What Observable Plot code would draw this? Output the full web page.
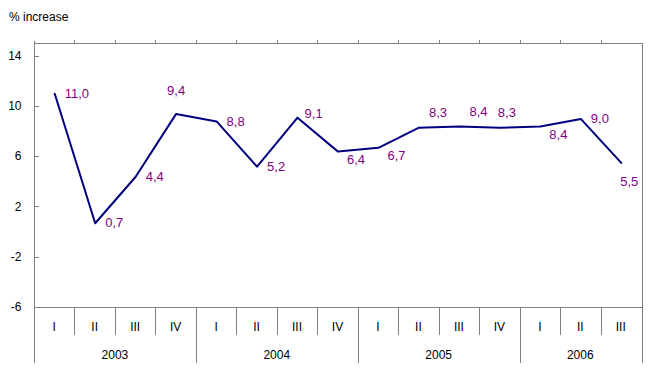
<!DOCTYPE html>
<html>
<head>
<meta charset="utf-8">
<script src="https://cdn.jsdelivr.net/npm/d3@7"></script>
<script src="https://cdn.jsdelivr.net/npm/@observablehq/plot@0.6"></script>
<style>
  html, body { margin: 0; padding: 0; background: #fff; }
  #chart svg { display: block; }
</style>
</head>
<body>
<div id="chart"></div>
<script>
// ---- data ----
const quarters = ["I","II","III","IV","I","II","III","IV","I","II","III","IV","I","II","III"];
const quarterYear = ["2003","2003","2003","2003","2004","2004","2004","2004","2005","2005","2005","2005","2006","2006","2006"];
const years = ["2003","2004","2005","2006"];
const values = [11.0, 0.7, 4.4, 9.4, 8.8, 5.2, 9.1, 6.4, 6.7, 8.3, 8.4, 8.3, 8.4, 9.0, 5.5];
const labelPlacement = ["right","right","right","above","right","right","rightUp","downRight","downRight","upRight","upRight","up","downRight","right","below"];
const yTicks = [-6, -2, 2, 6, 10, 14];
const yDomain = [-6, 15];
const yAxisTitle = "% increase";

// ---- styles ----
const FONT = "'Liberation Sans', Arial, Helvetica, sans-serif";
const GRAY = "#808080";
const placements = {
  right:     {textAnchor: "start",  dx: 10, dy: 0},
  rightUp:   {textAnchor: "start",  dx: 7,  dy: -4},
  above:     {textAnchor: "middle", dx: 0,  dy: -23},
  upRight:   {textAnchor: "start",  dx: 10, dy: -15},
  up:        {textAnchor: "middle", dx: 7,  dy: -15},
  downRight: {textAnchor: "start",  dx: 9,  dy: 8},
  below:     {textAnchor: "middle", dx: 8,  dy: 19}
};

const keys = quarters.map((q, i) => quarterYear[i] + " " + q);
const data = values.map((v, i) => ({key: keys[i], value: v, place: labelPlacement[i]}));
const fmt = v => v.toFixed(1).replace(".", ",");

function frame(index, scales, vals, dims) {
  const {x, y} = scales;
  const step = x(keys[1]) - x(keys[0]);
  const left = Math.round(x(keys[0]) - step / 2);
  const right = Math.round(x(keys[keys.length - 1]) + step / 2) + 1;
  const top = Math.round(y(yDomain[1]));
  const bottom = Math.round(y(yDomain[0]));
  const qBottom = bottom + 28;
  const yBottom = bottom + 56;
  const g = d3.create("svg:g").attr("fill", "none").attr("stroke", GRAY).attr("stroke-width", 1);
  const line = (x1, y1, x2, y2) => g.append("line").attr("x1", x1).attr("y1", y1).attr("x2", x2).attr("y2", y2);
  const p = v => Math.round(v) + 0.5;
  // frame
  line(left, p(top), right, p(top));
  line(left, p(bottom), right, p(bottom));
  line(p(left), top - 2, p(left), yBottom);
  line(p(right), top, p(right), yBottom);
  // y ticks (inward)
  for (const t of yTicks) line(left, p(y(t)), left + 5, p(y(t)));
  // boundaries
  for (let i = 1; i < keys.length; i++) {
    const bx = p(x(keys[i]) - step / 2);
    line(bx, top - 3, bx, top);
    const isYear = quarterYear[i] !== quarterYear[i - 1];
    line(bx, bottom, bx, isYear ? yBottom : qBottom);
  }
  const tg = g.append("g").attr("stroke", "none").attr("fill", "black")
    .attr("font-family", FONT).attr("font-size", 12).attr("text-anchor", "middle");
  keys.forEach((k, i) => {
    tg.append("text").attr("x", x(k)).attr("y", bottom + 20).attr("dy", "0.35em").text(quarters[i]);
  });
  for (const yr of years) {
    const ks = keys.filter((k, i) => quarterYear[i] === yr);
    const cx = (x(ks[0]) + x(ks[ks.length - 1])) / 2;
    tg.append("text").attr("x", cx).attr("y", bottom + 48).attr("dy", "0.35em").text(yr);
  }
  tg.append("text").attr("x", 9).attr("y", 17).attr("dy", "0.35em").attr("text-anchor", "start").text(yAxisTitle);
  return g.node();
}

const labelMarks = Object.entries(placements).map(([name, o]) =>
  Plot.text(data.filter(d => d.place === name), {
    x: "key", y: "value", text: d => fmt(d.value),
    fill: "#800080", fontSize: 13, textAnchor: o.textAnchor, dx: o.dx, dy: o.dy
  })
);

const chart = Plot.plot({
  width: 649,
  height: 374,
  marginLeft: 34,
  marginRight: 8,
  marginTop: 43,
  marginBottom: 67,
  style: {fontFamily: FONT, fontSize: "12px", color: "black", background: "white"},
  x: {type: "point", domain: keys, padding: 0.5, round: false, axis: null},
  y: {domain: yDomain, axis: null},
  marks: [
    Plot.axisY(yTicks, {label: null, tickSize: 0, tickPadding: 13, tickFormat: d => String(d), fontSize: 12}),
    frame,
    Plot.line(data, {x: "key", y: "value", stroke: "#000080", strokeWidth: 2}),
    ...labelMarks
  ]
});
document.getElementById("chart").appendChild(chart);
</script>
</body>
</html>
